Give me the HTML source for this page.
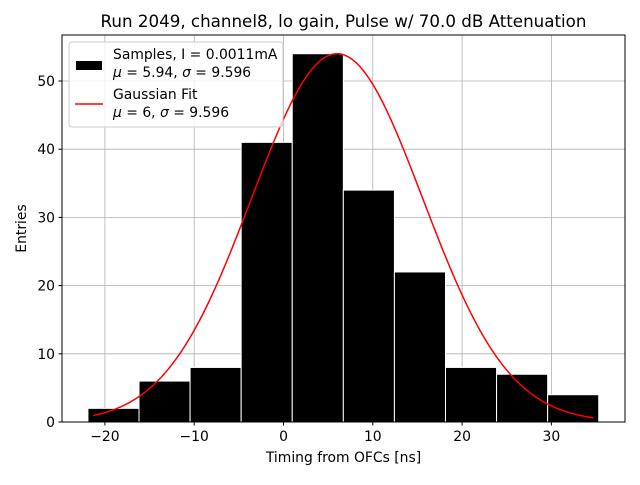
<!DOCTYPE html>
<html><head><meta charset="utf-8"><style>
body{margin:0;background:#fff;}
svg{font-family:"DejaVu Sans","Liberation Sans",sans-serif;}
</style></head><body>
<svg id="c" width="640" height="480" xmlns="http://www.w3.org/2000/svg">
<rect width="640" height="480" fill="#fff"/>
<text x="343.5" y="27" font-size="16.7" text-anchor="middle">Run 2049, channel8, lo gain, Pulse w/ 70.0 dB Attenuation</text>
<g id="grid"></g><g id="bars"></g><g id="curve"></g>
<rect x="62" y="35" width="563" height="387" fill="none" stroke="#000" stroke-width="1"/>
<g id="ticks" font-size="13.9"></g>
<text x="343.5" y="462" font-size="13.9" text-anchor="middle">Timing from OFCs [ns]</text>
<text transform="translate(26,228.5) rotate(-90)" font-size="13.9" text-anchor="middle">Entries</text>
<g>
<rect x="69" y="42" width="214" height="85" rx="3" fill="#fff" fill-opacity="0.8" stroke="#ccc"/>
<rect x="76" y="61" width="26" height="9" fill="#000"/>
<text x="113" y="59" font-size="13.9">Samples, I = 0.0011mA</text>
<text x="113" y="77" font-size="13.9"><tspan font-style="italic">μ</tspan> = 5.94, <tspan font-style="italic">σ</tspan> = 9.596</text>
<line x1="75" y1="104" x2="103" y2="104" stroke="red" stroke-width="1.5"/>
<text x="113" y="99" font-size="13.9">Gaussian Fit</text>
<text x="113" y="117" font-size="13.9"><tspan font-style="italic">μ</tspan> = 6, <tspan font-style="italic">σ</tspan> = 9.596</text>
</g>
</svg>
<script>
const binEdges=[-21.9,-16.18,-10.46,-4.74,0.98,6.7,12.42,18.14,23.86,29.58,35.3];
const counts=[2,6,8,41,54,34,22,8,7,4];
const fitMu=6, fitSigma=9.596, fitAmp=54;
const xTicks=[-20,-10,0,10,20,30];
const yTicks=[0,10,20,30,40,50];
const NS="http://www.w3.org/2000/svg";
const X=v=>283.5+v*8.93, Y=v=>422-v*6.82;
function mk(t,a,p){const e=document.createElementNS(NS,t);for(const k in a)e.setAttribute(k,a[k]);p.appendChild(e);return e;}
const g=document.getElementById('grid'),tk=document.getElementById('ticks');
xTicks.forEach(v=>{
 const l=mk('line',{x1:X(v),x2:X(v),y1:35,y2:422,stroke:'#b0b0b0','stroke-width':0.8},g);
 
 
 mk('line',{x1:X(v),x2:X(v),y1:422,y2:425.5,stroke:'#000'},tk);
 const t=mk('text',{x:X(v),y:441,'text-anchor':'middle'},tk);t.textContent=(v<0?'−'+(-v):v);
 
 
});
yTicks.forEach(v=>{
 const l=mk('line',{x1:62,x2:625,y1:Y(v),y2:Y(v),stroke:'#b0b0b0','stroke-width':0.8},g);
 
 
 mk('line',{x1:58.5,x2:62,y1:Y(v),y2:Y(v),stroke:'#000'},tk);
 const t=mk('text',{x:55,y:Y(v)+5,'text-anchor':'end'},tk);t.textContent=v;
 
 
});
const b=document.getElementById('bars');
counts.forEach((c,i)=>{
 const x1=X(binEdges[i]),x2=X(binEdges[i+1]);
 const r=mk('rect',{x:x1,y:Y(c),width:x2-x1,height:Y(0)-Y(c),fill:'#000',stroke:'#fff','stroke-width':1},b);
 
 
});
let d='';const x0=binEdges[0]+0.6,x1=binEdges[binEdges.length-1]-0.6;
for(let i=0;i<=300;i++){const v=x0+(x1-x0)*i/300;const y=fitAmp*Math.exp(-0.5*((v-fitMu)/fitSigma)**2);d+=(i?'L':'M')+X(v).toFixed(2)+','+Y(y).toFixed(2);}
const p=mk('path',{d:d,fill:'none',stroke:'red','stroke-width':1.5},document.getElementById('curve'));


</script>
</body></html>
